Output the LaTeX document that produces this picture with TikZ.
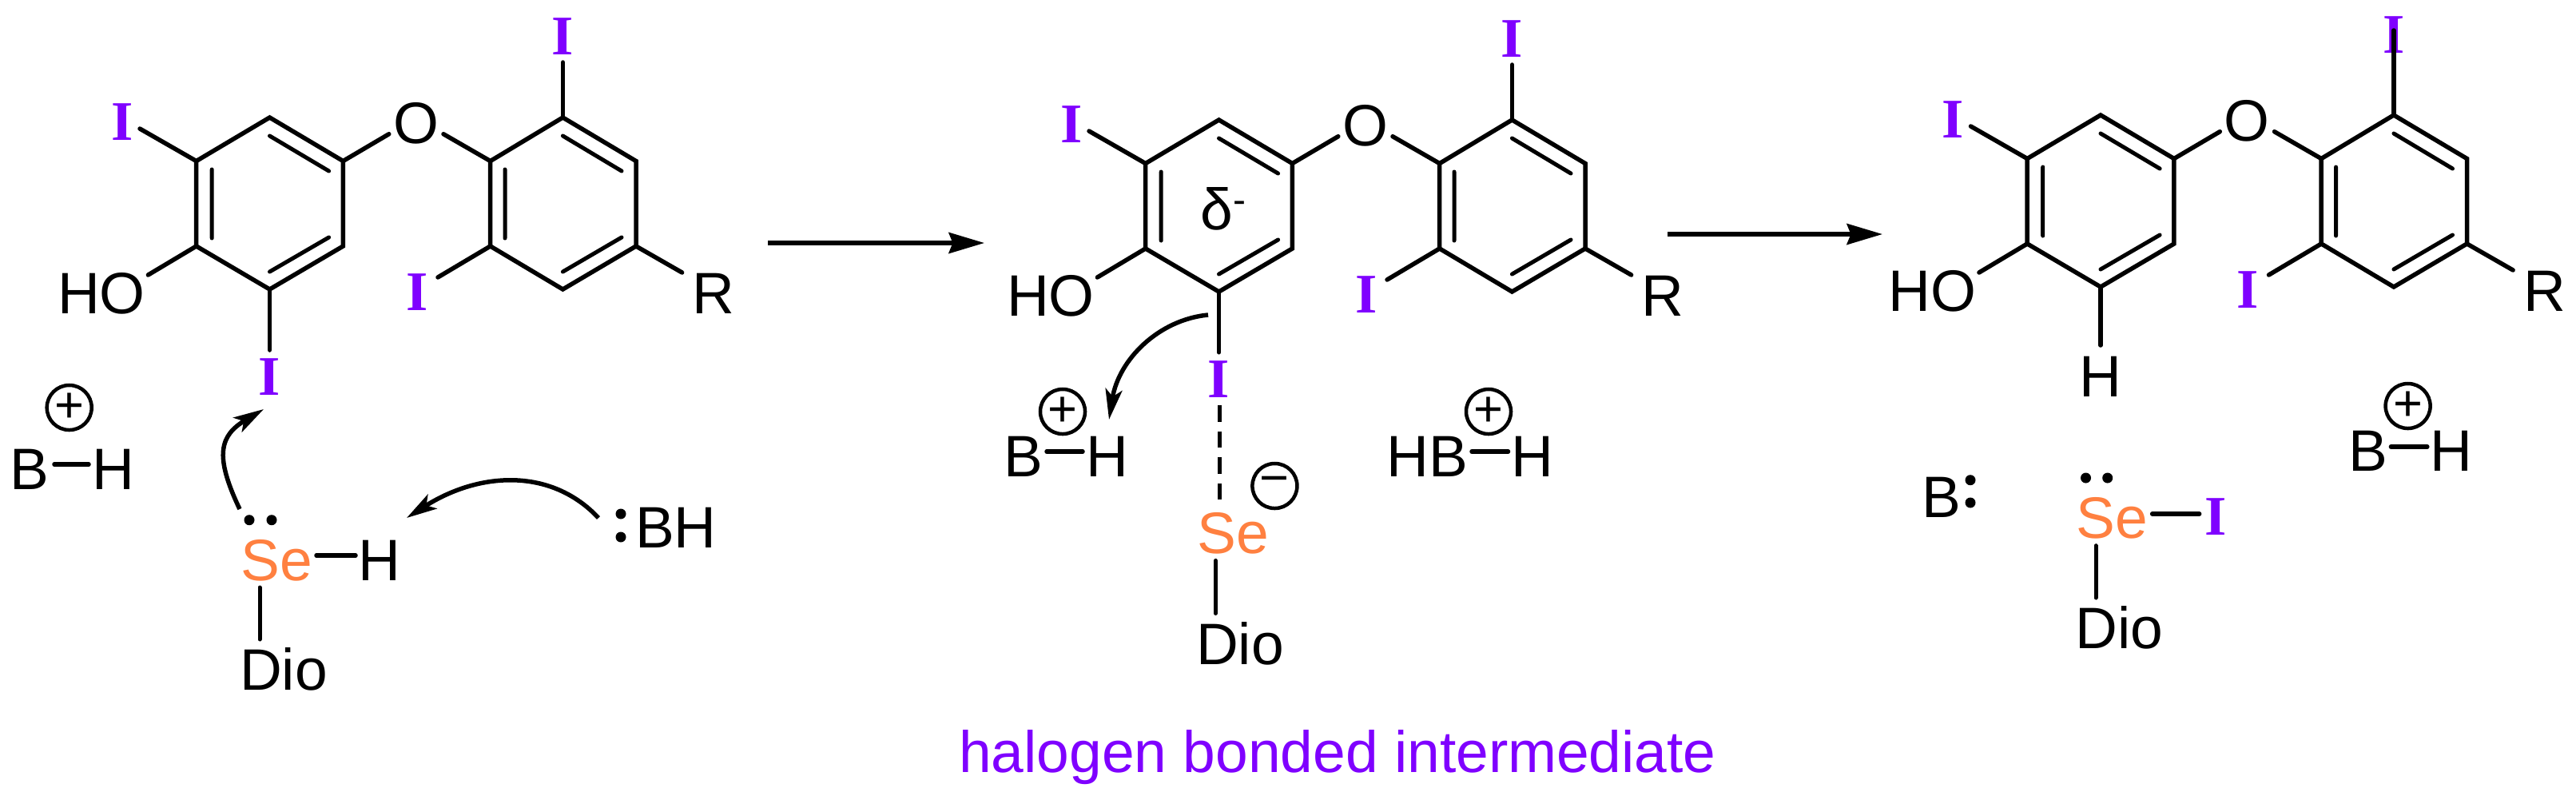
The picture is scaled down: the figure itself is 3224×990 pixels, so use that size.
\documentclass[tikz,border=0pt]{standalone}
\usepackage{fontspec}
\usetikzlibrary{arrows.meta}
\setmainfont{Liberation Sans}
\newfontfamily\labfont{Liberation Sans}
\newfontfamily\iofont[BoldFont={Liberation Serif Bold}]{Liberation Serif}
\definecolor{iod}{HTML}{7F00FF}
\definecolor{sel}{HTML}{FF8040}
\tikzset{
  bond/.style={line width=.055cm,line cap=round,line join=miter},
  thinbond/.style={line width=.05cm,line cap=round},
  lab/.style={anchor=base,inner sep=0pt,outer sep=0pt,font=\labfont\fontsize{20.8}{25}\selectfont},
  iodine/.style={anchor=base,inner sep=0pt,outer sep=0pt,text=iod,font=\iofont\bfseries\fontsize{19.9}{24}\selectfont},
  selen/.style={lab,text=sel},
  chg/.style={circle,draw,line width=.045cm,minimum size=.56cm,inner sep=0pt,font=\fontsize{18}{20}\selectfont},
  dotn/.style={circle,fill=black,inner sep=0pt,minimum size=.13cm},
  elec/.style={line width=.055cm,-{Stealth[length=.38cm,width=.21cm,inset=.09cm]}},
  react/.style={line width=.053cm,-{Stealth[length=.445cm,width=.26cm,inset=.05cm]}},
}
\newcommand{\Mol}[1]{%
  \coordinate (#1a) at (337.5,147);
  \coordinate (#1b) at (429.4,201.5);
  \coordinate (#1c) at (429.4,308);
  \coordinate (#1d) at (337.5,362);
  \coordinate (#1e) at (245.7,308);
  \coordinate (#1f) at (245.7,201.5);
  \coordinate (#1g) at (704.4,147);
  \coordinate (#1h) at (796,201.5);
  \coordinate (#1i) at (796,308);
  \coordinate (#1j) at (704.4,362);
  \coordinate (#1k) at (613.7,308);
  \coordinate (#1l) at (613.7,201.5);
  \draw[bond] (#1a)--(#1b)--(#1c)--(#1d)--(#1e)--(#1f)--cycle;
  \draw[bond] (#1g)--(#1h)--(#1i)--(#1j)--(#1k)--(#1l)--cycle;
  \coordinate (#1m1) at (337.5,170); \coordinate (#1m2) at (411.6,214);
  \coordinate (#1m3) at (265.2,212); \coordinate (#1m4) at (265.2,298);
  \coordinate (#1m5) at (411.6,297); \coordinate (#1m6) at (337.5,340);
  \coordinate (#1n1) at (704.4,170); \coordinate (#1n2) at (778,214);
  \coordinate (#1n3) at (632,212); \coordinate (#1n4) at (632,298);
  \coordinate (#1n5) at (778,297); \coordinate (#1n6) at (704.4,340);
  \draw[thinbond] (#1m1)--(#1m2) (#1m3)--(#1m4) (#1m5)--(#1m6);
  \draw[thinbond] (#1n1)--(#1n2) (#1n3)--(#1n4) (#1n5)--(#1n6);
  \node[iodine] (#1Ia) at (153,175) {I};
  \node[lab] (#1HO) at (127,392) {HO};
  \node[lab] (#1O) at (520.7,179) {O};
  \node[iodine] (#1Ib) at (521.8,388) {I};
  \node[lab] (#1R) at (893,392) {R};
  \coordinate (#1e1) at (175,161);
  \coordinate (#1e2) at (185.4,344);
  \coordinate (#1e3) at (486.8,167.7);
  \coordinate (#1e4) at (555,167.7);
  \coordinate (#1e5) at (548,347);
  \coordinate (#1e6) at (853.6,341);
  \draw[bond] (#1f)--(#1e1) (#1e)--(#1e2) (#1b)--(#1e3) (#1l)--(#1e4) (#1k)--(#1e5) (#1i)--(#1e6);
}
\begin{document}
\begin{tikzpicture}[x=.01cm,y=-.01cm]
\path[use as bounding box,fill=white] (0,0) rectangle (3224,990);

% ---------- first molecule ----------
\Mol{p}
\node[iodine] (pIc) at (337.5,494) {I};
\node[iodine] (pId) at (704.4,68) {I};
\coordinate (pe7) at (337.5,438);
\coordinate (pe8) at (704.4,78);
\draw[bond] (pd)--(pe7) (pg)--(pe8);
\node[lab] (pB) at (37,612) {B};
\node[lab] (pH) at (142,612) {H};
\coordinate (pb1) at (68,581); \coordinate (pb2) at (111,581);
\draw[bond] (pb1)--(pb2);
\node[chg] (pc) at (86.7,510) {+};
\node[selen] (pSe) at (346,726) {Se};
\node[lab] (pH2) at (475,726) {H};
\coordinate (ps1) at (396,695); \coordinate (ps2) at (445,695);
\draw[bond] (ps1)--(ps2);
\node[dotn] (pd1) at (312,650.7) {};
\node[dotn] (pd2) at (340,650.7) {};
\coordinate (ps3) at (325,735); \coordinate (ps4) at (325,800);
\draw[thinbond] (ps3)--(ps4);
\node[lab] (pDio) at (355,863) {Dio};
\node[dotn] (pd3) at (777,643) {};
\node[dotn] (pd4) at (777,672) {};
\node[lab] (pBH) at (846,685) {BH};
\coordinate (pa1) at (300,637); \coordinate (pa2) at (330,512);
\draw[elec] (pa1) .. controls (268,570) and (275,545) .. (pa2);
\coordinate (pa3) at (749,648); \coordinate (pa4) at (509,648);
\draw[elec] (pa3) .. controls (690,585) and (600,590) .. (pa4);

% ---------- reaction arrows ----------
\coordinate (r1a) at (961,304); \coordinate (r1b) at (1232,304);
\draw[react] (r1a)--(r1b);
\coordinate (r2a) at (2087,293); \coordinate (r2b) at (2356,293);
\draw[react] (r2a)--(r2b);

% ---------- second molecule ----------
\begin{scope}[shift={(1188,3)}]
\Mol{q}
\node[iodine] (qIc) at (337.5,494) {I};
\node[iodine] (qId) at (704.4,68) {I};
\coordinate (qe7) at (337.5,438);
\coordinate (qe8) at (704.4,78);
\draw[thinbond] (qd)--(qe7);
\draw[bond] (qg)--(qe8);
\end{scope}
\node[lab] (qdelta) at (1531,287) {δ\raisebox{.21cm}{\fontsize{13.6}{16}\selectfont -}};
\node[lab] (qB) at (1281,596) {B};
\node[lab] (qH) at (1386,596) {H};
\coordinate (qb1) at (1310,565); \coordinate (qb2) at (1355,565);
\draw[bond] (qb1)--(qb2);
\node[chg] (qc) at (1330,515) {+};
\node[lab] (qHB) at (1786,596) {HB};
\node[lab] (qH2) at (1918,596) {H};
\coordinate (qb3) at (1842,565); \coordinate (qb4) at (1887.5,565);
\draw[bond] (qb3)--(qb4);
\node[chg] (qc2) at (1863,515) {+};
\node[selen] (qSe) at (1543,692.5) {Se};
\node[chg] (qm) at (1595.4,608) {−};
\coordinate (qx1) at (1526,507); \coordinate (qx2) at (1526,625);
\draw[line width=.05cm,dash pattern=on .207cm off .12cm] (qx1)--(qx2);
\coordinate (qs3) at (1521.4,701.4); \coordinate (qs4) at (1521.4,767.5);
\draw[thinbond] (qs3)--(qs4);
\node[lab] (qDio) at (1552,831) {Dio};
\coordinate (qa1) at (1512,394); \coordinate (qa2) at (1388,525);
\draw[elec] (qa1) .. controls (1450,400) and (1400,450) .. (qa2);
\node[lab,text=iod,anchor=base] (cap) at (1674,966) {halogen bonded intermediate};

% ---------- third molecule ----------
\begin{scope}[shift={(2291.5,-3)}]
\Mol{u}
\node[iodine] (uId) at (704.4,69) {I};
\coordinate (ue7) at (337.5,435);
\coordinate (ue8) at (704.4,41);
\draw[bond] (ud)--(ue7);
\draw[bond] (ug)--(ue8);
\end{scope}
\node[lab] (uH) at (2629,496) {H};
\node[lab] (uB) at (2964,589) {B};
\node[lab] (uH2) at (3068,589) {H};
\coordinate (ub1) at (2992.4,559); \coordinate (ub2) at (3037.8,559);
\draw[bond] (ub1)--(ub2);
\node[chg] (uc) at (3013.6,508) {+};
\node[lab] (uB2) at (2430,647) {B};
\node[dotn] (ud1) at (2466,600.7) {};
\node[dotn] (ud2) at (2466,629) {};
\node[selen] (uSe) at (2643,673) {Se};
\node[dotn] (ud3) at (2610.5,598) {};
\node[dotn] (ud4) at (2637.7,598) {};
\coordinate (us1) at (2693.6,643); \coordinate (us2) at (2752.6,643);
\draw[bond] (us1)--(us2);
\node[iodine] (uIe) at (2773,669) {I};
\coordinate (us3) at (2623,682.7); \coordinate (us4) at (2623,748);
\draw[thinbond] (us3)--(us4);
\node[lab] (uDio) at (2652.6,811) {Dio};
\end{tikzpicture}
\end{document}
